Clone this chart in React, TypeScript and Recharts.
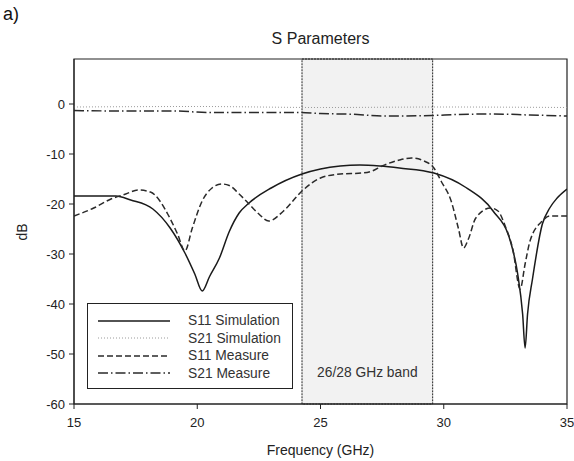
import React from 'react';
import {
    LineChart,
    Line,
    XAxis,
    YAxis,
    ReferenceArea,
} from 'recharts';

// frequency (GHz) / magnitude (dB)
const s11SimFreq = [15, 16, 16.7, 17.3, 18.2, 18.9, 19.5, 19.9, 20.2, 20.5, 20.9, 21.3, 21.7, 22.1, 23.0, 24.25, 25.0, 25.8, 26.6, 27.4, 28.2, 29.6, 30.9, 32.0, 32.7, 33.0, 33.2, 33.3, 33.4, 33.6, 34.0, 34.3, 34.6, 35];
const s11SimDb = [-18.4, -18.4, -18.4, -19.2, -21, -24.8, -29.8, -34, -37.4, -34.5, -30.8, -25.5, -21.8, -19.8, -16.8, -14, -13, -12.4, -12.2, -12.4, -12.8, -13.8, -16.7, -21.4, -27.4, -34, -42, -48.8, -42, -35, -24, -20.8, -18.8, -17];

const s11MeasFreq = [15, 15.8, 16.5, 17.1, 17.6, 18.1, 18.5, 18.8, 19.2, 19.5, 19.8, 20.2, 20.6, 21.0, 21.3, 21.7, 22.1, 22.5, 22.9, 23.5, 24.25, 25.0, 25.8, 26.7, 27.1, 27.5, 28.2, 28.7, 29.2, 29.6, 29.9, 30.3, 30.6, 30.8, 31.0, 31.3, 31.9, 32.2, 32.5, 32.8, 33.1, 33.3, 33.5, 34.0, 34.3, 35];
const s11MeasDb = [-22.4, -20.8, -19, -18, -17.2, -17.6, -19.5, -22, -26, -29.4, -24.8, -19.4, -16.8, -16, -16.3, -18, -20, -22, -23.4, -21.4, -17.4, -14.8, -14, -13.8, -13.4, -12.4, -11.2, -10.8, -11.4, -12.8, -15.5, -19.4, -25, -28.8, -27, -22.8, -20.8, -21.4, -24.5, -29, -37, -32, -27.4, -23.4, -22.4, -22.4];

const s21SimFreq = [15, 20, 25, 30, 35];
const s21SimDb = [-0.6, -0.5, -0.7, -0.6, -0.7];

const s21MeasFreq = [15, 17, 19, 20.5, 22, 24, 25, 26.5, 27.5, 29.5, 30.5, 32, 33.5, 35];
const s21MeasDb = [-1.3, -1.4, -1.4, -1.7, -1.7, -1.7, -1.9, -2.1, -2.4, -2.3, -2.1, -2.0, -2.2, -2.4];

const xTicks = [15, 20, 25, 30, 35];
const yTicks = [-60, -50, -40, -30, -20, -10, 0];
const band = [24.25, 29.55];

const toPoints = (f: number[], d: number[]) => f.map((x, i) => ({ f: x, db: d[i] }));

const series = [
    { name: 'S11 Simulation', data: toPoints(s11SimFreq, s11SimDb), color: '#1a1a1a', dash: undefined, width: 1.5 },
    { name: 'S21 Simulation', data: toPoints(s21SimFreq, s21SimDb), color: '#9a9a9a', dash: '1 2', width: 1 },
    { name: 'S11 Measure', data: toPoints(s11MeasFreq, s11MeasDb), color: '#2a2a2a', dash: '6 3', width: 1.5 },
    { name: 'S21 Measure', data: toPoints(s21MeasFreq, s21MeasDb), color: '#2a2a2a', dash: '10 3 1.5 3', width: 1.5 },
];

const font = 'Arial, "Liberation Sans", sans-serif';

// legend lives outside the chart so it doesn't eat plot height
const LegendBox = () => (
    <div style={{ position: 'absolute', left: 87, top: 303, width: 206, height: 86, border: '1px solid #222', boxSizing: 'border-box', background: '#fff', padding: '8px 0 0 10px' }}>
        {series.map((s) => (
            <div key={s.name} style={{ display: 'flex', alignItems: 'center', height: 17.5 }}>
                <svg width={72} height={6}>
                    <line x1={0} y1={3} x2={72} y2={3} stroke={s.color} strokeWidth={s.width} strokeDasharray={s.dash} />
                </svg>
                <span style={{ marginLeft: 18, fontSize: 13.8, color: '#333', fontFamily: font }}>{s.name}</span>
            </div>
        ))}
    </div>
);

export default function App() {
    return (
        <div style={{ position: 'absolute', left: 0, top: 0, width: 574, height: 461, background: '#fff', fontFamily: font }}>
            <div style={{ position: 'absolute', left: 3, top: 4, fontSize: 18, color: '#111' }}>a)</div>
            <div style={{ position: 'absolute', left: 74, width: 493, top: 30, textAlign: 'center', fontSize: 16, color: '#222' }}>S Parameters</div>
            <div style={{ position: 'absolute', left: 74, width: 493, top: 442, textAlign: 'center', fontSize: 14, color: '#222' }}>Frequency (GHz)</div>
            <div style={{ position: 'absolute', left: 13, top: 224, fontSize: 14, color: '#222', transform: 'rotate(-90deg)' }}>dB</div>
            <LineChart width={574} height={461} margin={{ top: 59, right: 7, left: 40, bottom: 27 }} style={{ position: 'absolute', left: 0, top: 0 }}>
                <XAxis
                    type="number"
                    dataKey="f"
                    domain={[15, 35]}
                    ticks={xTicks}
                    allowDataOverflow
                    height={30}
                    tickSize={5}
                    tickMargin={9}
                    stroke="#222"
                    tick={{ fill: '#222', fontSize: 13, fontFamily: font }}
                />
                <YAxis
                    type="number"
                    dataKey="db"
                    domain={[-60, 9]}
                    ticks={yTicks}
                    allowDataOverflow
                    width={34}
                    tickSize={5}
                    tickMargin={4}
                    stroke="#222"
                    tick={{ fill: '#222', fontSize: 13, fontFamily: font }}
                />
                <ReferenceArea
                    x1={band[0]}
                    x2={band[1]}
                    y1={-60}
                    y2={9}
                    fill="#f2f2f2"
                    fillOpacity={1}
                    stroke="#222"
                    strokeDasharray="2 1"
                    label={{ value: '26/28 GHz band', position: 'insideBottom', offset: 27, fill: '#333', fontSize: 13.8, fontFamily: font }}
                />
                <ReferenceArea x1={15} x2={35} y1={-60} y2={9} fill="none" stroke="#222" strokeWidth={1.2} />
                {series.map((s) => (
                    <Line
                        key={s.name}
                        data={s.data}
                        dataKey="db"
                        name={s.name}
                        type="monotone"
                        stroke={s.color}
                        strokeWidth={s.width}
                        strokeDasharray={s.dash}
                        dot={false}
                        isAnimationActive={false}
                    />
                ))}
            </LineChart>
            <LegendBox />
        </div>
    );
}
